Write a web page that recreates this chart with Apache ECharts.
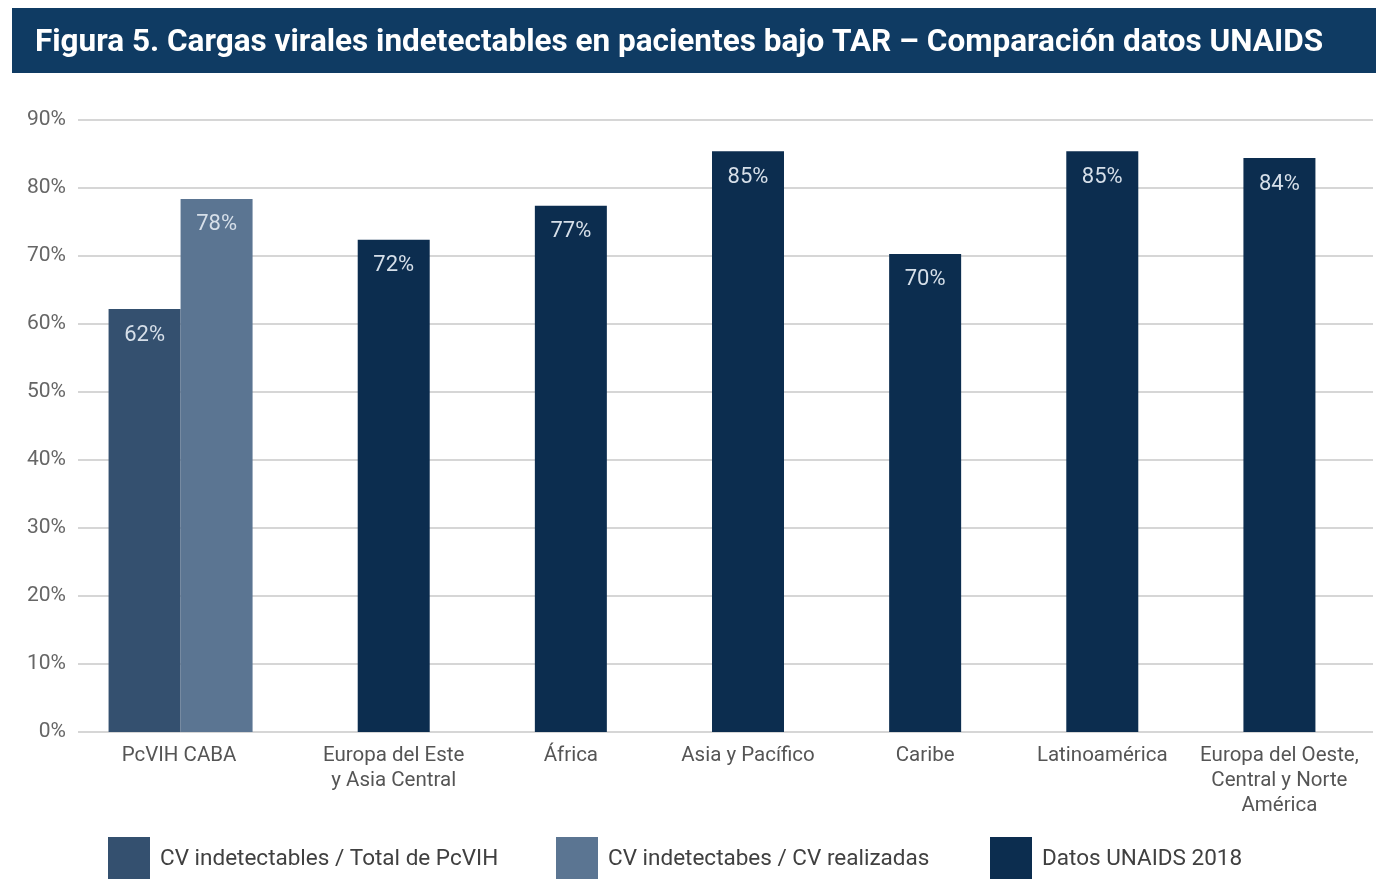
<!DOCTYPE html>
<html>
<head>
<meta charset="utf-8">
<script src="https://cdn.jsdelivr.net/npm/echarts@6/dist/echarts.min.js"></script>
<style>
html,body{margin:0;padding:0;background:#fff;}
#chart{width:1386px;height:879px;}
</style>
</head>
<body>
<div id="chart"></div>
<script>
const titleText = 'Figura 5. Cargas virales indetectables en pacientes bajo TAR – Comparación datos UNAIDS';
const categories = ['PcVIH CABA', 'Europa del Este\ny Asia Central', 'África', 'Asia y Pacífico', 'Caribe', 'Latinoamérica', 'Europa del Oeste,\nCentral y Norte\nAmérica'];
const seriesNames = ['CV indetectables / Total de PcVIH', 'CV indetectabes / CV realizadas', 'Datos UNAIDS 2018'];
const totalPcVIH = [62.2, '-', '-', '-', '-', '-', '-'];
const cvRealizadas = [78.4, '-', '-', '-', '-', '-', '-'];
const unaids2018 = ['-', 72.4, 77.4, 85.4, 70.3, 85.4, 84.4];
const reserveSlot = ['-', '-', '-', '-', '-', '-', '-'];
const yTicks = [0, 90, 10]; // min, max, interval

const colors = ['#34506f', '#5b7592', '#0c2d4f'];
const FONT = 'Roboto';

const chart = echarts.init(document.getElementById('chart'), null, {renderer: 'canvas'});

const labelStyle = {
  show: true,
  position: 'insideTop',
  distance: 15,
  fontSize: 22,
  fontFamily: FONT,
  color: '#d6dfe9',
  formatter: p => Math.round(p.value) + '%'
};

function legendFor(i, left) {
  return {
    data: [seriesNames[i]],
    left: left,
    top: 837,
    padding: 0,
    itemWidth: 42,
    itemHeight: 44,
    icon: 'rect',
    selectedMode: false,
    textStyle: {fontSize: 22.5, fontFamily: FONT, color: '#404040', padding: [0, 0, 0, 5]}
  };
}

const option = {
  backgroundColor: '#fff',
  animation: false,
  color: colors,
  graphic: [
    {type: 'rect', shape: {x: 12, y: 8, width: 1364, height: 65}, style: {fill: '#0f3b63'}},
    {type: 'text', x: 35, y: 43, style: {text: titleText, fill: '#ffffff', font: 'bold 31.5px Roboto', verticalAlign: 'middle'}}
  ],
  legend: [legendFor(0, 108), legendFor(1, 556), legendFor(2, 990)],
  grid: [
    {left: 78, top: 120, width: 1295, height: 612},
    {left: 128, top: 120, width: 1240, height: 612}
  ],
  xAxis: [
    {type: 'category', gridIndex: 0, data: categories, show: false},
    {
      type: 'category', gridIndex: 1, data: categories,
      axisLine: {show: false}, axisTick: {show: false},
      axisLabel: {
        interval: 0, margin: 11,
        formatter: (v, i) => i === 0 ? '{first|' + v + '}' : v.split('\n').map(s => '{n|' + s + '}').join('\n'),
        rich: {
          first: {fontSize: 20.5, fontFamily: FONT, color: '#555', lineHeight: 25, padding: [0, 75, 0, 0]},
          n: {fontSize: 20.5, fontFamily: FONT, color: '#555', lineHeight: 25}
        }
      }
    },
    {type: 'category', gridIndex: 1, data: categories, show: false}
  ],
  yAxis: [
    {
      type: 'value', gridIndex: 0, min: yTicks[0], max: yTicks[1], interval: yTicks[2],
      axisLine: {show: false}, axisTick: {show: false},
      axisLabel: {formatter: '{value}%', margin: 12, fontSize: 21, fontFamily: FONT, color: '#666'},
      splitLine: {show: true, lineStyle: {color: '#d6d6d6', width: 2}}
    },
    {type: 'value', gridIndex: 1, min: yTicks[0], max: yTicks[1], interval: yTicks[2], show: false, splitLine: {show: false}}
  ],
  series: [
    {name: seriesNames[0], type: 'bar', clip: false, xAxisIndex: 1, yAxisIndex: 1, data: totalPcVIH, barWidth: 72, barGap: '0%', itemStyle: {color: colors[0]}, label: labelStyle},
    {name: seriesNames[1], type: 'bar', clip: false, xAxisIndex: 1, yAxisIndex: 1, data: cvRealizadas, barWidth: 72, barGap: '0%', itemStyle: {color: colors[1]}, label: labelStyle},
    {name: 'reserva', type: 'bar', clip: false, xAxisIndex: 1, yAxisIndex: 1, data: reserveSlot, barWidth: 72, barGap: '0%', itemStyle: {color: 'transparent'}},
    {name: seriesNames[2], type: 'bar', clip: false, xAxisIndex: 2, yAxisIndex: 1, data: unaids2018, barWidth: 72, itemStyle: {color: colors[2]}, label: labelStyle}
  ]
};
chart.setOption(option);
</script>
</body>
</html>
